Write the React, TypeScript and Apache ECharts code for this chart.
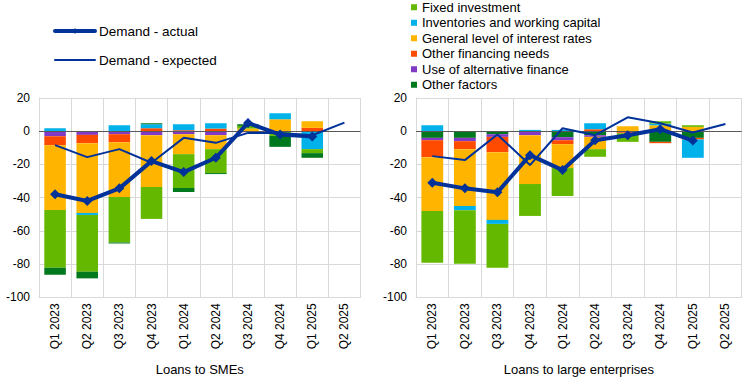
import React, { useEffect, useRef } from "react";
import * as echarts from "echarts";

const categories = ["Q1 2023", "Q2 2023", "Q3 2023", "Q4 2023", "Q1 2024", "Q2 2024", "Q3 2024", "Q4 2024", "Q1 2025", "Q2 2025"];

const smeFixed = [-34.8, -34.2, -27.4, -19.2, -20.4, -14.4, 1.6, -2.8, -2.4, null];
const smeInventories = [1.8, -1.2, 3.6, 2.4, 3.6, 3.2, 0, 3.6, -10.8, null];
const smeRates = [-39, -42, -33, -31.2, -12, -8.4, 1.6, 7.2, 4, null];
const smeOtherFin = [-5.4, -5, -4.8, 1.8, 0.6, 1.6, 0, 0, 2, null];
const smeAltFin = [-3, -2.2, -1.8, -2.4, -1.8, -2.4, -0.6, 0, 0, null];
const smeOther = [-4.2, -4, -0.6, 0.6, -2.4, -0.6, 1.0, -6.6, -2.8, null];
const smeActual = [-38, -42, -34.4, -18, -24.6, -16, 5, -2, -3.2, null];
const smeExpected = [-8.4, -15.6, -10.8, -19, -4, -7, -1, -1, -2.4, 5.2];

const leFixed = [-31.2, -32.2, -26.4, -19.2, -16.8, -4.6, -5.2, 1.4, 1, null];
const leInventories = [3.6, -2.6, -2.4, 0.8, 0.8, 3.6, 0, 1, -11, null];
const leRates = [-32.4, -34.2, -40.8, -29.4, -14.4, -7.4, 3, 3.6, 2.6, null];
const leOtherFin = [-10.2, -4.8, -9.2, 0, -2.4, 1.2, -0.6, -0.8, -1, null];
const leAltFin = [-1.4, -2, -1.6, -2.4, -1.8, -1, -0.6, 0, 0, null];
const leOther = [-4, -4, -1.8, 0, -3.6, -2.4, 0, -6.4, -4, null];
const leActual = [-31, -34.4, -36.8, -14.4, -23.4, -5.4, -2.4, 1.2, -5.6, null];
const leExpected = [-15, -17.4, -2, -20.4, 1.8, -2.4, 8.4, 4.8, -0.8, 4.4];

const yTicks = { min: -100, max: 20, interval: 20 };
const panelTitles = ["Loans to SMEs", "Loans to large enterprises"];

const NAMES = {
  fixed: "Fixed investment",
  inv: "Inventories and working capital",
  rates: "General level of interest rates",
  otherFin: "Other financing needs",
  alt: "Use of alternative finance",
  other: "Other factors",
  actual: "Demand - actual",
  expected: "Demand - expected",
};

const COLORS: Record<string, string> = {
  fixed: "#65B800",
  inv: "#00B1EA",
  rates: "#FFB400",
  otherFin: "#FF4B00",
  alt: "#8139C6",
  other: "#00781E",
  line: "#003299",
};

const FONT = "Liberation Sans, Arial, sans-serif";

function barSeries(key: string, data: (number | null)[], idx: number, stack: string) {
  return {
    name: (NAMES as any)[key],
    type: "bar",
    stack,
    xAxisIndex: idx,
    yAxisIndex: idx,
    data,
    barWidth: "67%",
    itemStyle: { color: COLORS[key] },
    z: 2,
  };
}

function lineSeries(idx: number, actual: (number | null)[], expected: (number | null)[]) {
  return [
    {
      name: NAMES.expected,
      type: "line",
      xAxisIndex: idx,
      yAxisIndex: idx,
      data: expected,
      symbol: "none",
      lineStyle: { color: COLORS.line, width: 2 },
      itemStyle: { color: COLORS.line },
      z: 5,
      markLine: {
        silent: true,
        symbol: "none",
        label: { show: false },
        lineStyle: { color: "#595959", width: 1, type: "solid" },
        data: [{ yAxis: 0 }],
        z: 3,
      },
    },
    {
      name: NAMES.actual,
      type: "line",
      xAxisIndex: idx,
      yAxisIndex: idx,
      data: actual,
      symbol: "diamond",
      symbolSize: 10,
      lineStyle: { color: COLORS.line, width: 4 },
      itemStyle: { color: COLORS.line },
      z: 6,
    },
  ];
}

export default function App() {
  const ref = useRef<HTMLDivElement>(null);
  useEffect(() => {
    if (!ref.current) return;
    const chart = echarts.init(ref.current, undefined, { renderer: "svg" });
    const grids = [
      { left: 39, top: 98, width: 321.5, height: 199.3 },
      { left: 416, top: 98, width: 325.7, height: 199.3 },
    ];
    const xAxes = grids.map((_, i) => ({
      type: "category",
      gridIndex: i,
      data: categories,
      boundaryGap: true,
      name: panelTitles[i],
      nameLocation: "middle",
      nameGap: 66,
      nameTextStyle: { fontFamily: FONT, fontSize: 13, color: "#000" },
      axisLine: { show: true, onZero: false, lineStyle: { color: "#D9D9D9" } },
      axisTick: { show: false },
      axisLabel: { rotate: 90, margin: 6, fontFamily: FONT, fontSize: 12, color: "#000", interval: 0 },
      splitLine: { show: true, interval: 0, lineStyle: { color: "#D9D9D9", width: 1 } },
    }));
    const yAxes = grids.map((_, i) => ({
      type: "value",
      gridIndex: i,
      min: yTicks.min,
      max: yTicks.max,
      interval: yTicks.interval,
      axisLine: { show: true, lineStyle: { color: "#D9D9D9" } },
      axisTick: { show: false },
      axisLabel: { fontFamily: FONT, fontSize: 12, color: "#000", margin: 9 },
      splitLine: { show: true, lineStyle: { color: "#D9D9D9", width: 1 } },
    }));
    const series: any[] = [
      barSeries("alt", smeAltFin, 0, "L"),
      barSeries("otherFin", smeOtherFin, 0, "L"),
      barSeries("rates", smeRates, 0, "L"),
      barSeries("inv", smeInventories, 0, "L"),
      barSeries("fixed", smeFixed, 0, "L"),
      barSeries("other", smeOther, 0, "L"),
      ...lineSeries(0, smeActual, smeExpected),
      barSeries("other", leOther, 1, "R"),
      barSeries("alt", leAltFin, 1, "R"),
      barSeries("otherFin", leOtherFin, 1, "R"),
      barSeries("rates", leRates, 1, "R"),
      barSeries("inv", leInventories, 1, "R"),
      barSeries("fixed", leFixed, 1, "R"),
      ...lineSeries(1, leActual, leExpected),
    ];
    const lineLegend = [
      { name: NAMES.actual, y: 31, width: 4, marker: true },
      { name: NAMES.expected, y: 60, width: 2, marker: false },
    ];
    const graphic: any[] = [];
    lineLegend.forEach((it) => {
      graphic.push({
        type: "line",
        shape: { x1: 55, y1: it.y, x2: 95, y2: it.y },
        style: { stroke: COLORS.line, lineWidth: it.width, lineCap: "round" },
      });
      if (it.marker) {
        graphic.push({
          type: "polygon",
          shape: { points: [[75, it.y - 3], [77, it.y], [75, it.y + 3], [73, it.y]] },
          style: { fill: COLORS.line },
        });
      }
      graphic.push({
        type: "text",
        x: 99,
        y: it.y,
        style: {
          text: it.name,
          font: `13.5px ${FONT}`,
          fill: "#000",
          textVerticalAlign: "middle",
          verticalAlign: "middle",
        },
      });
    });
    chart.setOption({
      animation: false,
      backgroundColor: "#fff",
      grid: grids,
      xAxis: xAxes,
      yAxis: yAxes,
      graphic,
      legend: [
        {
          orient: "vertical",
          left: 411,
          top: 0,
          padding: 0,
          itemWidth: 6,
          itemHeight: 6,
          itemGap: 1,
          icon: "rect",
          selectedMode: false,
          textStyle: { fontFamily: FONT, fontSize: 13, color: "#000", lineHeight: 14.5 },
          data: [NAMES.fixed, NAMES.inv, NAMES.rates, NAMES.otherFin, NAMES.alt, NAMES.other],
        },
      ],
      series,
    });
    return () => chart.dispose();
  }, []);
  return <div ref={ref} style={{ width: 744, height: 384, position: "absolute", left: 0, top: 0 }} />;
}
